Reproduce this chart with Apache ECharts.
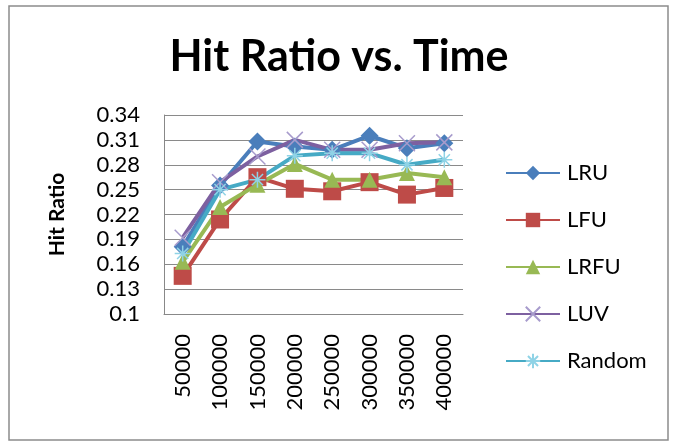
<!DOCTYPE html>
<html><head><meta charset="utf-8">
<script src="https://cdn.jsdelivr.net/npm/echarts@6/dist/echarts.min.js"></script>
<style>html,body{margin:0;padding:0;background:#fff}#c{width:678px;height:443px}</style>
</head><body><div id="c"></div>
<script>
const categories = ['50000','100000','150000','200000','250000','300000','350000','400000'];
const LRU    = [0.181, 0.255, 0.308, 0.302, 0.298, 0.315, 0.300, 0.306];
const LFU    = [0.146, 0.214, 0.265, 0.251, 0.248, 0.259, 0.244, 0.252];
const LRFU   = [0.163, 0.229, 0.256, 0.281, 0.262, 0.262, 0.270, 0.265];
const LUV    = [0.192, 0.259, 0.290, 0.310, 0.298, 0.298, 0.306, 0.307];
const Random = [0.173, 0.250, 0.262, 0.291, 0.294, 0.294, 0.280, 0.286];
const yMin = 0.1, yMax = 0.34, yStep = 0.03;

const FONT = 'Lato, "Open Sans", sans-serif';
const xPath = 'path://M0,0L10,10M10,0L0,10';
const starPath = 'path://M0,5L10,5M5,0L5,10M1.5,1.5L8.5,8.5M8.5,1.5L1.5,8.5';

function mk(name, data, color, symbol, size, symColor, stroke) {
  return {
    name, type: 'line', data, symbol, symbolSize: size,
    lineStyle: { color, width: 4 },
    itemStyle: stroke ? { color: 'transparent', borderColor: symColor, borderWidth: 1.5 } : { color: symColor },
    emphasis: { disabled: true }
  };
}

const chart = echarts.init(document.getElementById('c'), null, { renderer: 'canvas' });
chart.setOption({
  animation: false,
  backgroundColor: '#fff',
  graphic: [{ type: 'rect', shape: { x: 9, y: 6, width: 659, height: 434 }, style: { fill: 'none', stroke: '#8c8c8c', lineWidth: 1.5 } }],
  title: {
    text: 'Hit Ratio vs. Time', left: 'center', top: 31,
    textStyle: { fontFamily: FONT, fontWeight: 'bold', fontSize: 43, color: '#000' }
  },
  legend: {
    orient: 'vertical', left: 500, top: 157, itemGap: 25, itemWidth: 54, itemHeight: 18,
    textStyle: { fontFamily: FONT, fontSize: 22, color: '#000', padding: [0,0,0,2] },
    data: ['LRU','LFU','LRFU','LUV','Random']
  },
  grid: { left: 164, right: 215, top: 115, bottom: 129 },
  xAxis: {
    type: 'category', data: categories, boundaryGap: true,
    axisLine: { lineStyle: { color: '#888', width: 1 } },
    axisTick: { show: false },
    axisLabel: { rotate: 90, fontFamily: FONT, fontSize: 22, color: '#000', margin: 20 }
  },
  yAxis: {
    type: 'value', min: yMin, max: yMax, interval: yStep,
    name: 'Hit Ratio', nameLocation: 'middle', nameGap: 96, nameRotate: 90,
    nameTextStyle: { fontFamily: FONT, fontWeight: 'bold', fontSize: 21, color: '#000' },
    axisLine: { show: true, lineStyle: { color: '#888', width: 1 } },
    axisTick: { show: false },
    splitLine: { lineStyle: { color: '#8a8a8a', width: 1 } },
    axisLabel: { fontFamily: FONT, fontSize: 22, color: '#000', margin: 24,
      formatter: v => String(Math.round(v * 100) / 100) }
  },
  series: [
    mk('LRU', LRU, '#4A7EBB', 'diamond', 18, '#4A7EBB'),
    mk('LFU', LFU, '#BE4B48', 'rect', 18, '#BE4B48'),
    mk('LRFU', LRFU, '#98B954', 'triangle', 16, '#98B954'),
    mk('LUV', LUV, '#7D60A0', xPath, 16, '#a79bcc', true),
    mk('Random', Random, '#46AAC5', starPath, 16, '#8fd3e6', true)
  ]
});
</script></body></html>
